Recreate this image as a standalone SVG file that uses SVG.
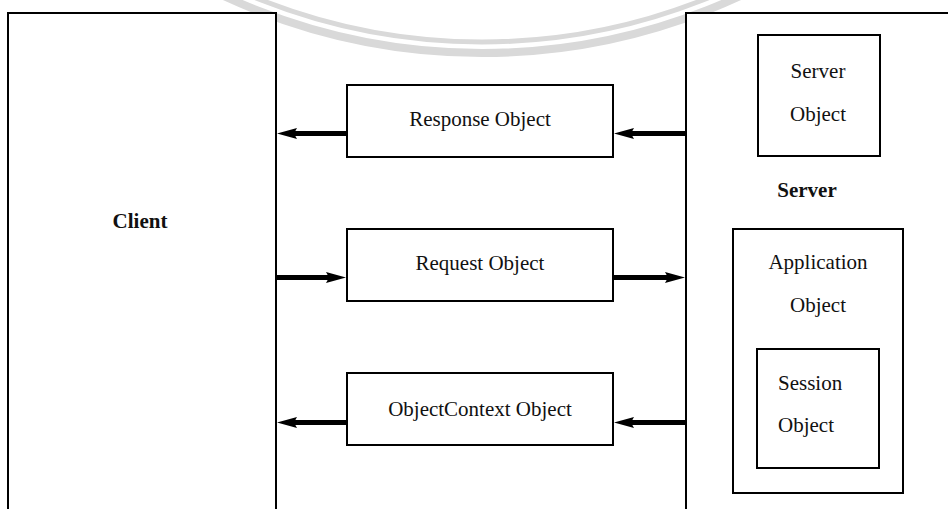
<svg xmlns="http://www.w3.org/2000/svg" width="948" height="509" viewBox="0 0 948 509">
  <style>
    .box { fill: #ffffff; stroke: #000000; stroke-width: 2; }
    .lbl { font-family: "Liberation Serif", "Times New Roman", serif; font-size: 21px; fill: #111111; }
    .mid { text-anchor: middle; }
    .bold { font-weight: bold; }
    .flow { stroke: #000000; stroke-width: 5; fill: none; }
    .seal { fill: none; stroke: #d9d9d9; }
  </style>
  <defs>
    <marker id="head" markerUnits="userSpaceOnUse" markerWidth="20" markerHeight="12" viewBox="0 0 20 12" refX="6" refY="6" orient="auto">
      <path d="M0,0.5 L20,6 L0,11.5 L3,6 Z" fill="#000000"/>
    </marker>
  </defs>

  <rect width="948" height="509" fill="#ffffff"/>

  <!-- faint circular seal at the top edge -->
  <g id="seal">
    <circle class="seal" cx="482" cy="-560" r="613" stroke-width="8"/>
    <circle class="seal" cx="482" cy="-560" r="602" stroke-width="5"/>
  </g>

  <g id="client">
    <rect class="box" x="8" y="13" width="268" height="520"/>
    <text class="lbl mid bold" x="140" y="228">Client</text>
  </g>

  <g id="server">
    <rect class="box" x="686" y="13" width="300" height="520"/>
    <text class="lbl mid bold" x="807" y="197">Server</text>
  </g>

  <g id="server-object">
    <rect class="box" x="758" y="35" width="122" height="121"/>
    <text class="lbl mid" x="818" y="78">Server</text>
    <text class="lbl mid" x="818" y="121">Object</text>
  </g>

  <g id="application-object">
    <rect class="box" x="733" y="229" width="170" height="264"/>
    <text class="lbl mid" x="818" y="269">Application</text>
    <text class="lbl mid" x="818" y="312">Object</text>
  </g>

  <g id="session-object">
    <rect class="box" x="757" y="349" width="122" height="119"/>
    <text class="lbl" x="778" y="390">Session</text>
    <text class="lbl" x="778" y="432">Object</text>
  </g>

  <g id="response-object">
    <rect class="box" x="347" y="85" width="266" height="72"/>
    <text class="lbl mid" x="480" y="126">Response Object</text>
  </g>

  <g id="request-object">
    <rect class="box" x="347" y="229" width="266" height="72"/>
    <text class="lbl mid" x="480" y="270">Request Object</text>
  </g>

  <g id="objectcontext-object">
    <rect class="box" x="347" y="373" width="266" height="72"/>
    <text class="lbl mid" x="480" y="416">ObjectContext Object</text>
  </g>

  <g id="connectors">
    <!-- Response: server -> box -> client -->
    <line class="flow" x1="685" y1="133.5" x2="628" y2="133.5" marker-end="url(#head)"/>
    <line class="flow" x1="346" y1="133.5" x2="291" y2="133.5" marker-end="url(#head)"/>
    <!-- Request: client -> box -> server -->
    <line class="flow" x1="277" y1="277.5" x2="332" y2="277.5" marker-end="url(#head)"/>
    <line class="flow" x1="614" y1="277.5" x2="671" y2="277.5" marker-end="url(#head)"/>
    <!-- ObjectContext: server -> box -> client -->
    <line class="flow" x1="685" y1="422.5" x2="628" y2="422.5" marker-end="url(#head)"/>
    <line class="flow" x1="346" y1="422.5" x2="291" y2="422.5" marker-end="url(#head)"/>
  </g>
</svg>
